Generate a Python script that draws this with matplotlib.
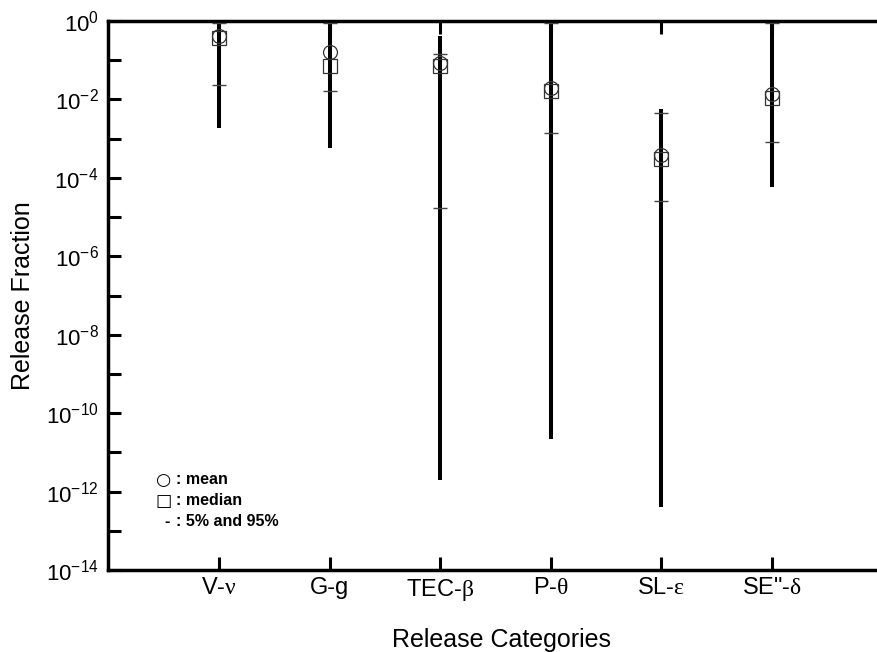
import matplotlib
matplotlib.use("Agg")
import matplotlib.pyplot as plt
import matplotlib.ticker as mticker
import numpy as np

plt.rcParams['font.family'] = ['Liberation Sans', 'DejaVu Sans']
plt.rcParams['mathtext.fontset'] = 'custom'
plt.rcParams['mathtext.rm'] = 'Liberation Serif'
plt.rcParams['mathtext.it'] = 'Liberation Serif:italic'
plt.rcParams['mathtext.bf'] = 'Liberation Serif:bold'
plt.rcParams['axes.unicode_minus'] = False

categories = ['V-$\\mathrm{ν}$', 'G-g', 'TEC-$\\mathrm{β}$', 'P-$\\mathrm{θ}$',
              'SL-$\\mathrm{ε}$', 'SE"-$\\mathrm{δ}$']
range_min = [1.9e-3, 5.8e-4, 1.95e-12, 2.2e-11, 4.1e-13, 5.9e-5]
range_max = [1.0, 1.05, 0.41, 1.0, 5.7e-3, 1.0]
mean_vals = [0.42, 0.165, 0.083, 0.019, 3.8e-4, 0.014]
median_vals = [0.36, 0.072, 0.072, 0.016, 3.1e-4, 0.011]
p5_vals = [0.023, 0.016, 1.7e-5, 1.4e-3, 2.5e-5, 8.1e-4]
p95_vals = [0.88, 0.88, 0.14, 0.88, 4.4e-3, 0.88]

W, H = 877.0, 652.0
left_px, right_px, top_px, bottom_px = 108.4, 895.0, 21.0, 570.0
fig = plt.figure(figsize=(W / 100, H / 100), dpi=100)
ax = fig.add_axes([left_px / W, 1 - bottom_px / H,
                   (right_px - left_px) / W, (bottom_px - top_px) / H])

x = np.arange(1, len(categories) + 1)

ax.vlines(x, range_min, range_max, colors='black', linewidth=2.9, zorder=2)
ax.plot(x, p5_vals, linestyle='none', marker='_', markersize=10,
        markeredgewidth=1.0, color='#444444', zorder=3)
ax.plot(x, p95_vals, linestyle='none', marker='_', markersize=10,
        markeredgewidth=1.0, color='#444444', zorder=3)
ax.plot(x, mean_vals, linestyle='none', marker='o', markersize=10,
        markerfacecolor='none', markeredgecolor='#333333', markeredgewidth=0.9, zorder=4)
ax.plot(x, median_vals, linestyle='none', marker='s', markersize=9.5,
        markerfacecolor='none', markeredgecolor='#333333', markeredgewidth=0.9, zorder=4)

ax.set_yscale('log')
ax.set_ylim(1e-14, 1)
ax.set_xlim(0, (right_px - left_px) / 110.6)

ax.yaxis.set_major_locator(mticker.FixedLocator([10.0**e for e in range(-14, 1, 2)]))
ax.yaxis.set_minor_locator(mticker.FixedLocator([10.0**e for e in range(-13, 0, 2)]))
ax.yaxis.set_major_formatter(mticker.LogFormatterSciNotation())
ax.yaxis.set_minor_formatter(mticker.NullFormatter())

ax.set_xticks(x)
ax.set_xticklabels(categories)

ax.tick_params(axis='both', which='both', direction='in', width=2.2, length=9.5,
               top=True, right=True, color='black')
ax.tick_params(axis='y', which='major', labelsize=16, pad=7)
ax.tick_params(axis='x', which='major', labelsize=17, pad=5)

for sp in ax.spines.values():
    sp.set_linewidth(2.5)

ax.set_xlabel('Release Categories', fontsize=18, labelpad=18)
ax.set_ylabel('Release Fraction', fontsize=18, labelpad=8)

legend_symbols = ['○', '□', '-']
legend_texts = [': mean', ': median', ': 5% and 95%']
legend_y = [0.164, 0.126, 0.089]
sym_x = [0.0705, 0.0705, 0.0745]
txt_x = 0.0855
for sym, sx, txt, ly in zip(legend_symbols, sym_x, legend_texts, legend_y):
    ax.text(sx, ly, sym, transform=ax.transAxes, fontsize=12.5 if sym != '-' else 11.5,
            fontweight='bold', ha='center', va='center',
            family=['DejaVu Sans'] if sym != '-' else ['Liberation Sans'])
    ax.text(txt_x, ly, txt, transform=ax.transAxes, fontsize=11.5, fontweight='bold',
            ha='left', va='center', family=['Liberation Sans', 'DejaVu Sans'])

fig.savefig('out.png', dpi=100)
